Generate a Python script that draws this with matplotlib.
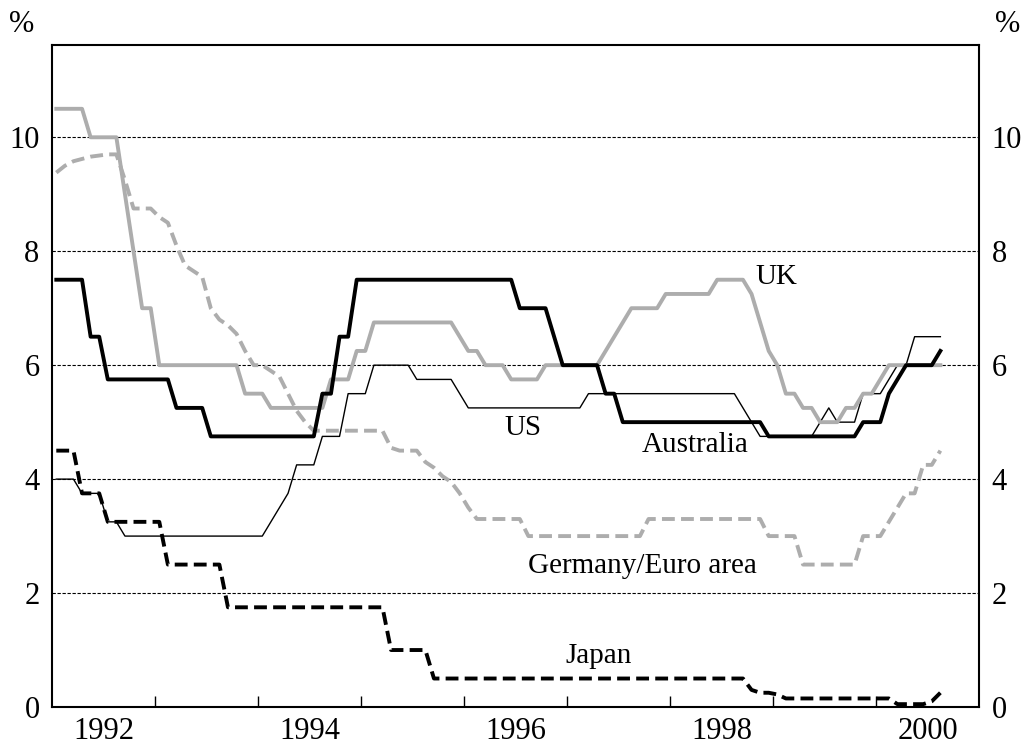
import numpy as np
import pandas as pd
import matplotlib
matplotlib.use("Agg")
import matplotlib.pyplot as plt

plt.rcParams['font.family'] = ['Liberation Serif', 'DejaVu Serif']

# monthly observations, Jan 1992 - Aug 2000, plotted mid-month
months = pd.date_range("1992-01-01", "2000-08-01", freq="MS")

australia = [
    7.5, 7.5, 7.5, 7.5, 6.5, 6.5, 5.75, 5.75, 5.75, 5.75, 5.75, 5.75,          # 1992
    5.75, 5.75, 5.25, 5.25, 5.25, 5.25, 4.75, 4.75, 4.75, 4.75, 4.75, 4.75,    # 1993
    4.75, 4.75, 4.75, 4.75, 4.75, 4.75, 4.75, 5.5, 5.5, 6.5, 6.5, 7.5,         # 1994
    7.5, 7.5, 7.5, 7.5, 7.5, 7.5, 7.5, 7.5, 7.5, 7.5, 7.5, 7.5,                # 1995
    7.5, 7.5, 7.5, 7.5, 7.5, 7.5, 7.0, 7.0, 7.0, 7.0, 6.5, 6.0,                # 1996
    6.0, 6.0, 6.0, 6.0, 5.5, 5.5, 5.0, 5.0, 5.0, 5.0, 5.0, 5.0,                # 1997
    5.0, 5.0, 5.0, 5.0, 5.0, 5.0, 5.0, 5.0, 5.0, 5.0, 5.0, 4.75,               # 1998
    4.75, 4.75, 4.75, 4.75, 4.75, 4.75, 4.75, 4.75, 4.75, 4.75, 5.0, 5.0,      # 1999
    5.0, 5.5, 5.75, 6.0, 6.0, 6.0, 6.0, 6.25,                                  # 2000
]

us = [
    4.0, 4.0, 4.0, 3.75, 3.75, 3.75, 3.25, 3.25, 3.0, 3.0, 3.0, 3.0,
    3.0, 3.0, 3.0, 3.0, 3.0, 3.0, 3.0, 3.0, 3.0, 3.0, 3.0, 3.0,
    3.0, 3.25, 3.5, 3.75, 4.25, 4.25, 4.25, 4.75, 4.75, 4.75, 5.5, 5.5,
    5.5, 6.0, 6.0, 6.0, 6.0, 6.0, 5.75, 5.75, 5.75, 5.75, 5.75, 5.5,
    5.25, 5.25, 5.25, 5.25, 5.25, 5.25, 5.25, 5.25, 5.25, 5.25, 5.25, 5.25,
    5.25, 5.25, 5.5, 5.5, 5.5, 5.5, 5.5, 5.5, 5.5, 5.5, 5.5, 5.5,
    5.5, 5.5, 5.5, 5.5, 5.5, 5.5, 5.5, 5.5, 5.25, 5.0, 4.75, 4.75,
    4.75, 4.75, 4.75, 4.75, 4.75, 5.0, 5.25, 5.0, 5.0, 5.0, 5.5, 5.5,
    5.5, 5.75, 6.0, 6.0, 6.5, 6.5, 6.5, 6.5,
]

uk = [
    10.5, 10.5, 10.5, 10.5, 10.0, 10.0, 10.0, 10.0, 9.0, 8.0, 7.0, 7.0,
    6.0, 6.0, 6.0, 6.0, 6.0, 6.0, 6.0, 6.0, 6.0, 6.0, 5.5, 5.5,
    5.5, 5.25, 5.25, 5.25, 5.25, 5.25, 5.25, 5.25, 5.75, 5.75, 5.75, 6.25,
    6.25, 6.75, 6.75, 6.75, 6.75, 6.75, 6.75, 6.75, 6.75, 6.75, 6.75, 6.5,
    6.25, 6.25, 6.0, 6.0, 6.0, 5.75, 5.75, 5.75, 5.75, 6.0, 6.0, 6.0,
    6.0, 6.0, 6.0, 6.0, 6.25, 6.5, 6.75, 7.0, 7.0, 7.0, 7.0, 7.25,
    7.25, 7.25, 7.25, 7.25, 7.25, 7.5, 7.5, 7.5, 7.5, 7.25, 6.75, 6.25,
    6.0, 5.5, 5.5, 5.25, 5.25, 5.0, 5.0, 5.0, 5.25, 5.25, 5.5, 5.5,
    5.75, 6.0, 6.0, 6.0, 6.0, 6.0, 6.0, 6.0,
]

germany = [
    9.38, 9.5, 9.58, 9.62, 9.66, 9.68, 9.7, 9.7, 9.25, 8.75, 8.75, 8.75,
    8.6, 8.5, 8.1, 7.75, 7.65, 7.55, 7.0, 6.8, 6.7, 6.55, 6.25, 6.0,
    6.0, 5.9, 5.8, 5.5, 5.2, 5.0, 4.85, 4.85, 4.85, 4.85, 4.85, 4.85,
    4.85, 4.85, 4.85, 4.55, 4.5, 4.5, 4.5, 4.3, 4.2, 4.05, 3.95, 3.75,
    3.5, 3.3, 3.3, 3.3, 3.3, 3.3, 3.3, 3.0, 3.0, 3.0, 3.0, 3.0,
    3.0, 3.0, 3.0, 3.0, 3.0, 3.0, 3.0, 3.0, 3.0, 3.3, 3.3, 3.3,
    3.3, 3.3, 3.3, 3.3, 3.3, 3.3, 3.3, 3.3, 3.3, 3.3, 3.3, 3.0,
    3.0, 3.0, 3.0, 2.5, 2.5, 2.5, 2.5, 2.5, 2.5, 2.5, 3.0, 3.0,
    3.0, 3.25, 3.5, 3.75, 3.75, 4.25, 4.25, 4.5,
]

japan = [
    4.5, 4.5, 4.5, 3.75, 3.75, 3.75, 3.25, 3.25, 3.25, 3.25, 3.25, 3.25,
    3.25, 2.5, 2.5, 2.5, 2.5, 2.5, 2.5, 2.5, 1.75, 1.75, 1.75, 1.75,
    1.75, 1.75, 1.75, 1.75, 1.75, 1.75, 1.75, 1.75, 1.75, 1.75, 1.75, 1.75,
    1.75, 1.75, 1.75, 1.0, 1.0, 1.0, 1.0, 1.0, 0.5, 0.5, 0.5, 0.5,
    0.5, 0.5, 0.5, 0.5, 0.5, 0.5, 0.5, 0.5, 0.5, 0.5, 0.5, 0.5,
    0.5, 0.5, 0.5, 0.5, 0.5, 0.5, 0.5, 0.5, 0.5, 0.5, 0.5, 0.5,
    0.5, 0.5, 0.5, 0.5, 0.5, 0.5, 0.5, 0.5, 0.5, 0.3, 0.25, 0.25,
    0.22, 0.15, 0.15, 0.15, 0.15, 0.15, 0.15, 0.15, 0.15, 0.15, 0.15, 0.15,
    0.15, 0.15, 0.05, 0.05, 0.05, 0.05, 0.1, 0.25,
]

grid_levels = [2, 4, 6, 8, 10]
y_ticks = [0, 2, 4, 6, 8, 10]
year_ticks = list(range(1993, 2001))
year_labels = [1992, 1994, 1996, 1998, 2000]

# series name labels: (text, x, y)
labels = [
    ("UK", 1999.03, 7.55),
    ("US", 1996.57, 4.9),
    ("Australia", 1998.24, 4.6),
    ("Germany/Euro area", 1997.73, 2.47),
    ("Japan", 1997.31, 0.9),
]

x = months.year + (months.month - 0.5) / 12
grey = "#ADADAD"
dash = (0, (3.3, 1.6))

fig = plt.figure(figsize=(10.29, 7.44), dpi=100)
ax = fig.add_axes([52 / 1029, 1 - 707 / 744, (979 - 52) / 1029, (707 - 45) / 744])

for v in grid_levels:
    ax.axhline(v, color="black", lw=0.8, ls=(0, (3, 1.5)), zorder=1)

ax.plot(x, germany, color=grey, lw=2.8, ls=dash, zorder=2)
ax.plot(x, japan, color="black", lw=2.8, ls=dash, zorder=2)
ax.plot(x, us, color="black", lw=1.0, zorder=3)
ax.plot(x, uk, color=grey, lw=2.8, zorder=4)
ax.plot(x, australia, color="black", lw=2.8, zorder=5)

ax.set_xlim(1992, 2001)
ax.set_ylim(0, 11.62)

ax.set_xticks(year_ticks)
ax.set_xticklabels([])
ax.tick_params(axis="x", which="major", direction="in", length=8, width=1)
ax.set_xticks([y + 0.5 for y in year_labels], minor=True)
ax.set_xticklabels([str(y) for y in year_labels], minor=True)
ax.tick_params(axis="x", which="minor", length=0, pad=7, labelsize=22)

ax.set_yticks(y_ticks)
ax.set_yticklabels([str(v) for v in y_ticks])
ax.tick_params(axis="y", length=0, pad=9, labelsize=22, labelright=True)

for s in ax.spines.values():
    s.set_linewidth(1.5)

for name, lx, ly in labels:
    ax.text(lx, ly, name, ha="center", va="center", fontsize=21)

fig.text(22 / 1029, 1 - 24 / 744, "%", ha="center", va="center", fontsize=22)
fig.text(1008 / 1029, 1 - 24 / 744, "%", ha="center", va="center", fontsize=22)

fig.savefig("out.png", dpi=100)
